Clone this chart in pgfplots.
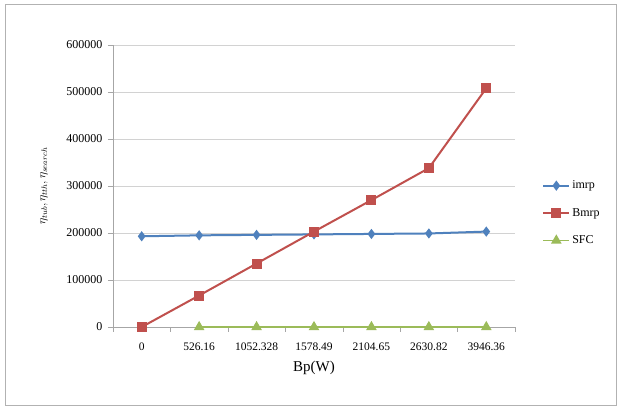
\documentclass[border=0pt]{standalone}
\usepackage{pgfplots}
\pgfplotsset{compat=1.18}
\usepackage{fontspec}
\setmainfont{Liberation Serif}
\definecolor{xblue}{HTML}{4F81BD}
\definecolor{xred}{HTML}{C0504D}
\definecolor{xgreen}{HTML}{9BBB59}
\begin{document}
\begin{tikzpicture}[x=1pt,y=1pt]
\path[fill=white] (0,0) rectangle (621,411);
\draw[gray!60, line width=1pt] (5,5) rectangle (616,406);
\begin{axis}[
  at={(113pt,84pt)}, anchor=south west,
  scale only axis, width=402pt, height=282pt,
  xmin=-0.5, xmax=6.5, ymin=0, ymax=600000,
  xtick={0,...,6},
  xticklabels={0,526.16,1052.328,1578.49,2104.65,2630.82,3946.36},
  minor xtick={-0.5,0.5,...,6.5},
  ytick={0,100000,...,600000},
  scaled y ticks=false,
  /pgf/number format/fixed, /pgf/number format/1000 sep={},
  /pgf/number format/assume math mode=true,
  tick align=outside,
  major tick length=5pt, minor tick length=5pt,
  major x tick style={draw=none},
  minor x tick style={gray!70},
  y tick style={gray!70},
  axis x line*=bottom, axis y line*=left,
  axis line style={gray!70, line width=0.8pt},
  ymajorgrids, grid style={gray!35, line width=0.8pt},
  xticklabel style={font=\fontsize{11.5}{13}\selectfont, yshift=-7pt},
  yticklabel style={font=\fontsize{12}{13}\selectfont, xshift=-2pt},
  xlabel={Bp(W)},
  xlabel style={font=\fontsize{15}{17}\selectfont, yshift=-4pt},
  ylabel={$\eta_{tub}, \eta_{tth}, \eta_{search}$},
  ylabel style={font=\fontsize{12}{13}\selectfont, yshift=12pt},
  legend style={at={(1.06,0.404)}, anchor=west, draw=none, fill=none,
    font=\fontsize{12}{13}\selectfont, row sep=14pt,
    /tikz/every even column/.append style={column sep=1pt}},
  legend image code/.code={\draw[mark repeat=2,mark phase=2] plot coordinates {(0pt,0pt)(13pt,0pt)(26pt,0pt)};},
  legend cell align=left,
  clip=false,
]
\addplot[xblue, line width=2pt, mark=diamond*, mark size=3.5pt, mark options={solid}]
 coordinates {(0,193000)(1,195000)(2,196000)(3,197000)(4,198000)(5,199000)(6,203000)};
\addlegendentry{imrp}
\addplot[xred, line width=2pt, mark=square*, mark size=4pt]
 coordinates {(0,0)(1,67000)(2,135000)(3,203000)(4,270000)(5,338000)(6,508000)};
\addlegendentry{Bmrp}
\addplot[xgreen, line width=1.6pt, mark=triangle*, mark size=4.5pt]
 coordinates {(1,0)(2,0)(3,0)(4,0)(5,0)(6,0)};
\addlegendentry{SFC}
\end{axis}
\end{tikzpicture}
\end{document}
